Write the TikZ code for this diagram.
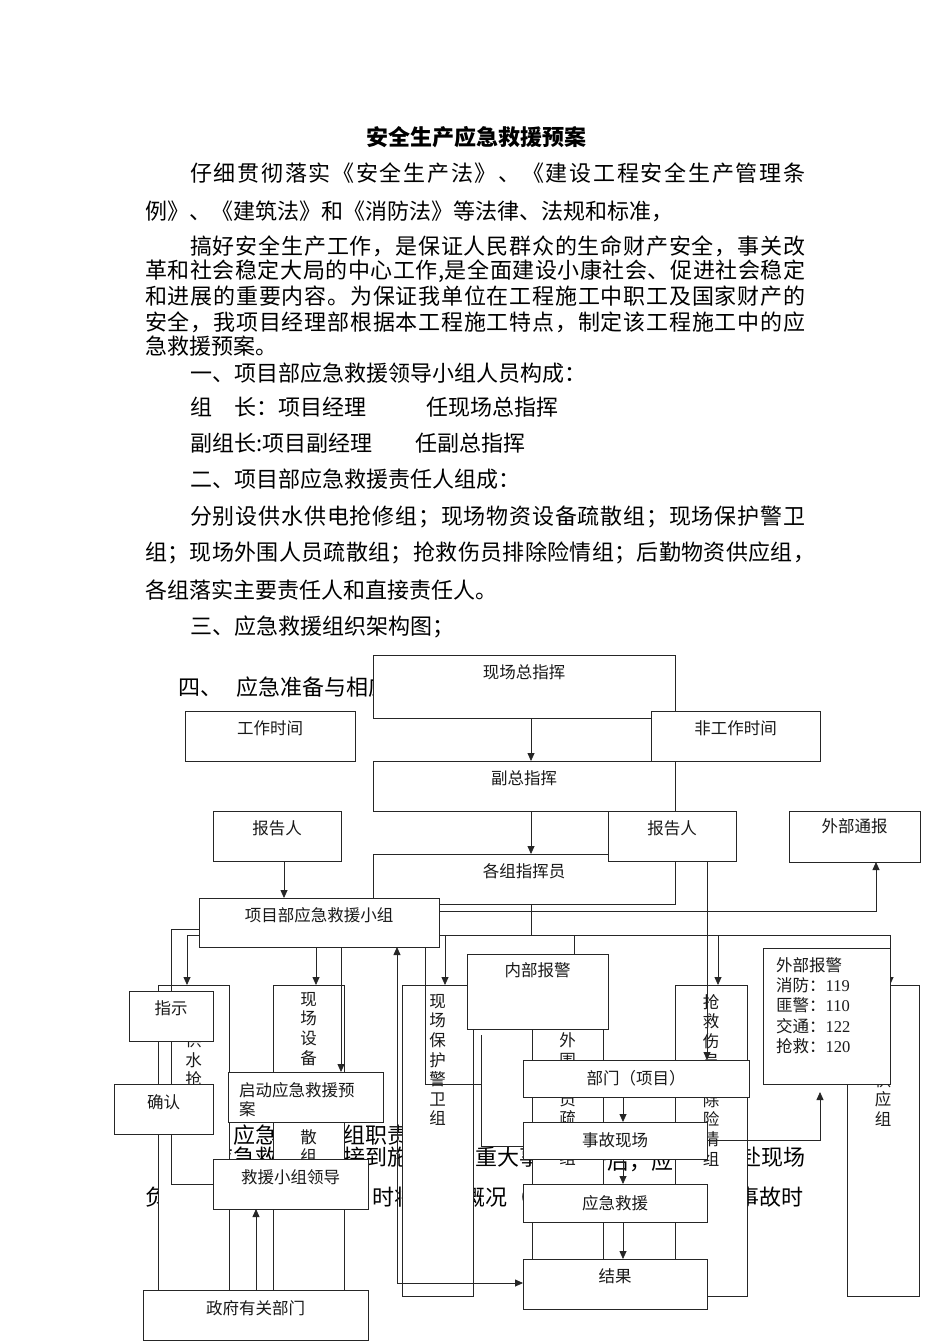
\documentclass[tikz,border=0pt]{standalone}
\usepackage{fontspec}
\setmainfont{Noto Sans CJK SC}
\newfontfamily\numfont{Liberation Serif}
\usetikzlibrary{arrows.meta,calc}
\pgfdeclarelayer{back}
\pgfdeclarelayer{mid}
\pgfsetlayers{back,mid,main}
\makeatletter
\def\rsspread#1{\rs@a#1\relax}
\def\rs@a#1{#1\rs@b}
\def\rs@b#1{\ifx#1\relax\else\hfil#1\expandafter\rs@b\fi}
\makeatother
\tikzset{
  bx/.style n args={2}{draw=black!85, fill=white, line width=0.8pt, minimum width=#1pt, minimum height=#2pt, anchor=north west, inner sep=0pt, outer sep=0pt},
  lb/.style={font=\fontsize{16.5}{19.6}\selectfont, inner sep=0pt, text=black!90},
  vt/.style={lb, anchor=north, align=center},
  para/.style={font=\fontsize{22}{26}\selectfont, anchor=west, inner sep=0pt},
  ln/.style={draw=black!85, line width=0.8pt},
  arr/.style={ln, -{Triangle[length=8pt,width=7pt]}},
  darr/.style={ln, {Triangle[length=8pt,width=7pt]}-{Triangle[length=8pt,width=7pt]}},
}
\begin{document}
\begin{tikzpicture}[x=1pt,y=-1pt]
\useasboundingbox (0,0) rectangle (950,1344);

% ---------- small boxes (top layer) ----------
\node[bx={302}{63}] (zz) at (373,655) {};
\node[lb] (zzt) at ($(zz.north)+(0,17)$) {现场总指挥};
\node[bx={302}{50}] (fz) at (373,761) {};
\node[lb] (fzt) at ($(fz.north)+(0,17)$) {副总指挥};
\node[bx={302}{50}] (gz) at (373,854) {};
\node[lb] (gzt) at ($(gz.north)+(0,17)$) {各组指挥员};
\node[bx={169}{50}] (fg) at (651,711) {};
\node[lb] (fgt) at ($(fg.north)+(0,17)$) {非工作时间};
\node[bx={170}{50}] (gw) at (185,711) {};
\node[lb] (gwt) at ($(gw.north)+(0,17)$) {工作时间};
\node[bx={128}{50}] (bl) at (213,811) {};
\node[lb] (blt) at ($(bl.north)+(0,17)$) {报告人};
\node[bx={128}{50}] (br) at (608,811) {};
\node[lb] (brt) at ($(br.north)+(0,17)$) {报告人};
\node[bx={131}{51}] (wt) at (789,811) {};
\node[lb] (wtt) at ($(wt.north)+(0,15)$) {外部通报};
\node[bx={240}{49}] (xm) at (199,898) {};
\node[lb] (xmt) at ($(xm.north)+(0,17)$) {项目部应急救援小组};
\node[bx={84}{50}] (zs) at (129,991) {};
\node[lb] (zst) at ($(zs.north)+(0,17)$) {指示};
\node[bx={99}{50}] (qr) at (114,1084) {};
\node[lb] (qrt) at ($(qr.north)+(0,18)$) {确认};
\node[bx={155}{50}] (qd) at (228,1072) {};
\node[lb, anchor=north west, align=left] (qdt) at (239,1082) {启动应急救援预\\案};
\node[bx={141}{75}] (nb) at (467,954) {};
\node[lb] (nbt) at ($(nb.north)+(0,16)$) {内部报警};
\node[bx={127}{136}] (wb) at (763,948) {};
\node[lb, anchor=north west, align=left, font=\fontsize{16.5}{20.3}\selectfont] (wbt) at (776,957)
  {外部报警\\消防：{\numfont 119}\\匪警：{\numfont 110}\\交通：{\numfont 122}\\抢救：{\numfont 120}};
\node[bx={226}{37}] (bm) at (523,1060) {};
\node[lb] (bmt) at (bm.center) {部门（项目）};
\node[bx={184}{37}] (sg) at (523,1122) {};
\node[lb] (sgt) at (sg.center) {事故现场};
\node[bx={184}{38}] (yj) at (523,1184) {};
\node[lb] (yjt) at (yj.center) {应急救援};
\node[bx={184}{50}] (jg) at (523,1259) {};
\node[lb] (jgt) at ($(jg.north)+(0,17)$) {结果};
\node[bx={155}{50}] (ld) at (213,1159) {};
\node[lb] (ldt) at ($(ld.north)+(0,18)$) {救援小组领导};
\node[bx={225}{50}] (zf) at (143,1290) {};
\node[lb] (zft) at ($(zf.north)+(0,18)$) {政府有关部门};

% ---------- background: page text and tall group boxes ----------
\begin{pgfonlayer}{back}
\fill[white] (0,0) rectangle (950,1344);
\node[para, anchor=center, font=\fontsize{22}{26}\selectfont\bfseries] (title) at (476,137) {安全生产应急救援预案};
\node[para] (p1) at (190,173) {\hbox to 615pt{\rsspread{仔细贯彻落实《安全生产法》、《建设工程安全生产管理条}}};
\node[para] (p2) at (145,211) {例》、《建筑法》和《消防法》等法律、法规和标准，};
\node[para] (p3) at (190,246) {\hbox to 615pt{\rsspread{搞好安全生产工作，是保证人民群众的生命财产安全，事关改}}};
\node[para] (p4) at (145,271) {\hbox to 660pt{\rsspread{革和社会稳定大局的中心工作,是全面建设小康社会、促进社会稳定}}};
\node[para] (p5) at (145,296) {\hbox to 660pt{\rsspread{和进展的重要内容。为保证我单位在工程施工中职工及国家财产的}}};
\node[para] (p6) at (145,322) {\hbox to 660pt{\rsspread{安全，我项目经理部根据本工程施工特点，制定该工程施工中的应}}};
\node[para] (p7) at (145,346) {急救援预案。};
\node[para] (p8) at (190,373) {一、项目部应急救援领导小组人员构成：};
\node[para] (p9a) at (190,407) {组　长：项目经理};
\node[para] (p9b) at (426,407) {任现场总指挥};
\node[para] (p10a) at (190,443) {副组长:项目副经理};
\node[para] (p10b) at (415,443) {任副总指挥};
\node[para] (p11) at (190,479) {二、项目部应急救援责任人组成：};
\node[para] (p12) at (190,517) {\hbox to 615pt{\rsspread{分别设供水供电抢修组；现场物资设备疏散组；现场保护警卫}}};
\node[para] (p13) at (145,553) {\hbox to 670pt{\rsspread{组；现场外围人员疏散组；抢救伤员排除险情组；后勤物资供应组，}}};
\node[para] (p14) at (145,590) {各组落实主要责任人和直接责任人。};
\node[para] (p15) at (190,627) {三、应急救援组织架构图；};
\node[para] (p16) at (178,687) {四、\hspace{14pt}应急准备与相应};
% fragments of the paragraph hidden behind the chart
\node[para] (r1a) at (233,1135) {应急};
\node[para] (r1b) at (343,1135) {组职责};
\node[para] (r2a) at (211,1157) {应急救};
\node[para] (r2b) at (343,1157) {接到施};
\node[para] (r2c) at (453,1157) {场重大事};
\node[para] (r2d) at (585,1161) {告后，应};
\node[para] (r2e) at (739,1157) {赴现场};
\node[para] (r3a) at (145,1197) {负};
\node[para] (r3b) at (372,1197) {时将};
\node[para] (r3c) at (463,1197) {概况（};
\node[para] (r3d) at (737,1197) {事故时};

\node[bx={71}{305}] (gs) at (158,985) {};
\node[vt] (gst) at ($(gs.north)+(0,9)$) {现\\场\\供\\水\\抢\\修\\组};
\node[bx={71}{305}] (sb) at (273,985) {};
\node[vt] (sbt) at ($(sb.north)+(0,7)$) {现\\场\\设\\备};
\node[vt] (sbt2) at ($(sb.north)+(0,144)$) {散\\组};
\node[bx={71}{311}] (bh) at (402,985) {};
\node[vt] (bht) at ($(bh.north)+(0,9)$) {现\\场\\保\\护\\警\\卫\\组};
\node[bx={71}{311}] (ww) at (532,985) {};
\node[vt] (wwt) at ($(ww.north)+(0,9)$) {现\\场\\外\\围\\人\\员\\疏\\散\\组};
\node[bx={72}{311}] (qj) at (675,985) {};
\node[vt] (qjt) at ($(qj.north)+(0,9)$) {抢\\救\\伤\\员\\排\\除\\险\\情\\组};
\node[bx={72}{311}] (hq) at (847,985) {};
\node[vt] (hqt) at ($(hq.north)+(0,9)$) {后\\勤\\物\\资\\供\\应\\组};
\end{pgfonlayer}

% ---------- connectors ----------
\begin{pgfonlayer}{mid}
\draw[arr] ($(zz.south west)+(158,0)$) -- ($(fz.north west)+(158,0)$);
\draw[arr] ($(fz.south west)+(158,0)$) -- ($(gz.north west)+(158,0)$);
\draw[ln] (zz.south east) -- (gz.north east);
\draw[arr] ($(bl.south west)+(71,0)$) -- ($(xm.north west)+(85,0)$);
\draw[arr] ($(xm.north east)+(0,13)$) -| ($(wt.south west)+(87,0)$);
\draw[ln] ($(gz.south west)+(158,0)$) -- ($(xm.north east)+(92,37)$);
\draw[arr] ($(xm.north east)+(0,37)$) -| ($(hq.north west)+(43,0)$);
\draw[arr] ($(xm.north east)+(6,37)$) -- ($(bh.north west)+(43,0)$);
\draw[ln] ($(xm.north east)+(135,37)$) -- ($(nb.north west)+(107,0)$);
\draw[arr] ($(xm.north east)+(279,37)$) -- ($(qj.north west)+(43,0)$);
\draw[arr] ($(br.south west)+(99,0)$) -- ($(bm.north west)+(184,0)$);
\draw[arr] ($(xm.north west)+(0,37)$) -| ($(gs.north west)+(29,0)$);
\draw[ln] ($(xm.north west)+(0,31)$) -- ++(-28,0) |- ($(ld.north west)+(0,25)$);
\draw[arr] ($(xm.south west)+(117,0)$) -- ($(sb.north west)+(43,0)$);
\draw[arr] ($(xm.south west)+(142,0)$) -- ($(qd.north west)+(113,0)$);
\draw[darr] ($(xm.south west)+(198,0)$) |- ($(jg.north west)+(0,24)$);
\draw[ln] ($(xm.south west)+(226,0)$) |- ($(nb.south west)+(14,55)$);
\draw[ln] ($(nb.south west)+(14,6)$) |- ($(sg.north west)+(0,24)$);
\draw[arr] ($(bm.south west)+(100,0)$) -- ($(sg.north west)+(100,0)$);
\draw[arr] ($(sg.south west)+(100,0)$) -- ($(yj.north west)+(100,0)$);
\draw[arr] ($(yj.south west)+(100,0)$) -- ($(jg.north west)+(100,0)$);
\draw[arr] ($(sg.north east)+(0,18)$) -| ($(wb.south west)+(57,8)$);
\draw[arr] ($(zf.north west)+(113,0)$) -- ($(ld.south west)+(43,0)$);
\end{pgfonlayer}
\end{tikzpicture}
\end{document}
